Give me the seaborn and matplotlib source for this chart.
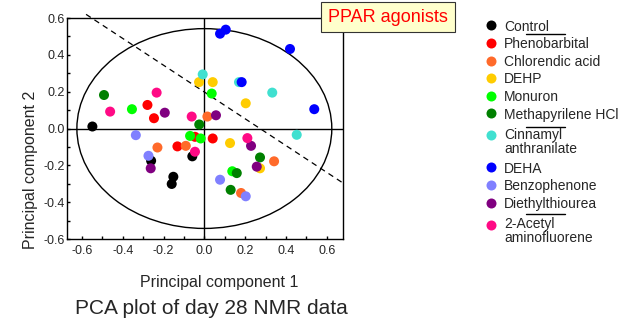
import numpy as np
import pandas as pd
import matplotlib
matplotlib.use("Agg")
import matplotlib.pyplot as plt
import seaborn as sns
from matplotlib.patches import Ellipse
from matplotlib.lines import Line2D
from matplotlib.ticker import MultipleLocator

# grupos e cores (ordem da legenda)
groups = ["Control", "Phenobarbital", "Chlorendic acid", "DEHP", "Monuron",
          "Methapyrilene HCl", "Cinnamyl\nanthranilate", "DEHA", "Benzophenone",
          "Diethylthiourea", "2-Acetyl\naminofluorene"]
colors = ["#000000", "#FF0000", "#FF6A2A", "#FFCC00", "#00FF00", "#008000",
          "#40E0D0", "#0000FF", "#8080FF", "#800080", "#FF0A85"]

# scores PC1 / PC2
control_x = [-0.549, -0.261, -0.152, -0.160, -0.059]
control_y = [0.011, -0.175, -0.262, -0.301, -0.151]
pheno_x = [-0.279, -0.247, -0.132, -0.046, 0.041]
pheno_y = [0.128, 0.056, -0.097, -0.045, -0.054]
chlor_x = [0.015, -0.230, -0.091, 0.342, 0.180]
chlor_y = [0.065, -0.103, -0.094, -0.178, -0.350]
dehp_x = [-0.026, 0.041, 0.203, 0.126, 0.273]
dehp_y = [0.252, 0.252, 0.137, -0.079, -0.216]
monuron_x = [0.036, -0.355, -0.070, -0.018, 0.137]
monuron_y = [0.190, 0.105, -0.040, -0.054, -0.232]
metha_x = [-0.492, -0.025, 0.273, 0.159, 0.129]
metha_y = [0.182, 0.022, -0.157, -0.242, -0.333]
cinn_x = [-0.008, 0.170, 0.333, 0.453]
cinn_y = [0.294, 0.252, 0.195, -0.034]
deha_x = [0.077, 0.105, 0.420, 0.183, 0.539]
deha_y = [0.515, 0.537, 0.432, 0.252, 0.105]
benzo_x = [-0.336, -0.274, 0.077, 0.203]
benzo_y = [-0.036, -0.148, -0.278, -0.368]
dett_x = [-0.194, 0.057, 0.229, 0.257, -0.263]
dett_y = [0.086, 0.072, -0.094, -0.207, -0.216]
aaf_x = [-0.234, -0.462, -0.062, 0.211, -0.046]
aaf_y = [0.195, 0.092, 0.065, -0.052, -0.126]

all_x = [control_x, pheno_x, chlor_x, dehp_x, monuron_x, metha_x, cinn_x,
         deha_x, benzo_x, dett_x, aaf_x]
all_y = [control_y, pheno_y, chlor_y, dehp_y, monuron_y, metha_y, cinn_y,
         deha_y, benzo_y, dett_y, aaf_y]

# elipse e linha de separacao
ellipse_w, ellipse_h = 1.25, 1.085
sep_x = [-0.58, 0.68]
sep_y = [0.62, -0.296]

rows = []
for g, xs, ys in zip(groups, all_x, all_y):
    for a, b in zip(xs, ys):
        rows.append((g, a, b))
df = pd.DataFrame(rows, columns=["grupo", "PC1", "PC2"])

sns.set_style("ticks")
plt.rcParams["font.family"] = ["Liberation Sans", "DejaVu Sans"]

W, H = 628, 324
fig = plt.figure(figsize=(W / 100, H / 100), dpi=100)
ax = fig.add_axes([0.1062, 0.2623, 0.44, 0.682])

ax.add_patch(Ellipse((0, 0), ellipse_w, ellipse_h, fill=False, color="black", lw=1.0, zorder=1))
ax.axhline(0, color="black", lw=1.0, zorder=1)
ax.axvline(0, color="black", lw=1.0, zorder=1)
ax.plot(sep_x, sep_y, color="black", lw=0.9, ls=(0, (4.5, 3.5)), clip_on=False, zorder=1)

sns.scatterplot(data=df, x="PC1", y="PC2", hue="grupo", hue_order=groups,
                palette=colors, s=52, edgecolor="none", linewidth=0, ax=ax,
                zorder=3, legend=False)

ax.set_xlim(-0.675, 0.68)
ax.set_ylim(-0.6, 0.6)
ax.xaxis.set_major_locator(MultipleLocator(0.2))
ax.yaxis.set_major_locator(MultipleLocator(0.2))
ax.xaxis.set_minor_locator(MultipleLocator(0.1))
ax.yaxis.set_minor_locator(MultipleLocator(0.1))
ax.xaxis.set_major_formatter(lambda v, p: f"{v:.1f}".replace("-0.0", "0.0"))
ax.yaxis.set_major_formatter(lambda v, p: f"{v:.1f}".replace("-0.0", "0.0"))
ax.tick_params(which="both", direction="in", length=2.5, width=1.0, labelsize=9,
               top=False, right=False, color="black")
ax.tick_params(axis="x", pad=4.5)
ax.tick_params(axis="y", pad=1)
for s in ax.spines.values():
    s.set_linewidth(1.0)
    s.set_color("black")

ax.set_xlabel("Principal component 1", fontsize=11.5)
ax.set_ylabel("Principal component 2", fontsize=11.5)
ax.xaxis.set_label_coords(0.551, -0.163)
ax.yaxis.set_label_coords(-0.104, 0.312)

# legenda montada a mao (entradas de duas linhas com o ponto na primeira)
leg_x_marker, leg_x_text = 491, 504
baseline = 30.7
pitch, line_gap = 17.6, 12.0
prev_multi = False
for i, (g, c) in enumerate(zip(groups, colors)):
    n_lines = len(g.split("\n"))
    if i > 0:
        baseline += pitch
        if n_lines > 1:
            baseline += 4.4
        if prev_multi:
            baseline += 2.4
    fig.add_artist(Line2D([leg_x_marker / W], [1 - (baseline - 5.3) / H],
                          marker="o", ms=7.2, mfc=c, mec="none", ls=""))
    # va="baseline" prende a ultima linha do texto
    baseline += line_gap * (n_lines - 1)
    fig.text(leg_x_text / W, 1 - baseline / H, g, fontsize=10,
             ha="left", va="baseline", linespacing=0.99)
    prev_multi = n_lines > 1

# tracos pequenos na legenda
for yy in [34, 127, 214]:
    fig.add_artist(Line2D([526 / W, 565 / W], [1 - yy / H, 1 - yy / H],
                          color="black", lw=1.0))

fig.text(388 / W, 1 - 17 / H, "PPAR agonists", color="#FF0000", fontsize=13,
         ha="center", va="center",
         bbox=dict(boxstyle="square,pad=0.38", facecolor="#FFFFCC",
                   edgecolor="#333333", lw=0.8))

fig.text(211 / W, 1 - 309 / H, "PCA plot of day 28 NMR data", fontsize=15,
         ha="center", va="center")

plt.savefig("out.png", dpi=100)
